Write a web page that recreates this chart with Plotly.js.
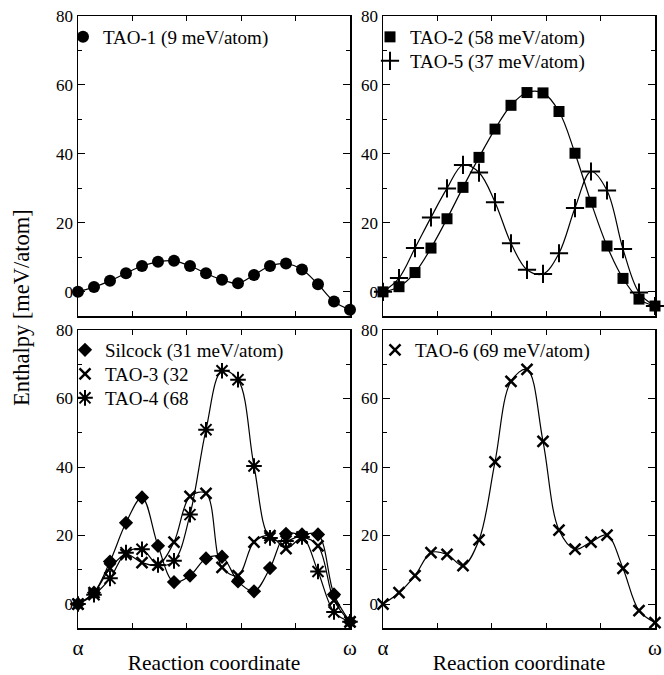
<!DOCTYPE html>
<html>
<head>
<meta charset="utf-8">
<script src="https://cdn.plot.ly/plotly-3.0.1.min.js"></script>
<style>html,body{margin:0;padding:0;background:#fff;}#chart{width:664px;height:675px;}</style>
</head>
<body>
<div id="chart"></div>
<script>
// Reaction coordinate images (index along path)
const images = [0, 1, 2, 3, 4, 5, 6, 7, 8, 9, 10, 11, 12, 13, 14, 15, 16, 17];
// Enthalpy values [meV/atom]
const tao1 = [0, 1.4, 3.2, 5.4, 7.5, 8.7, 9.0, 7.5, 5.4, 3.5, 2.5, 4.9, 7.5, 8.2, 6.5, 2.2, -2.8, -5.2];
const tao2 = [0, 1.5, 5.6, 12.7, 21.2, 30.3, 39.0, 47.2, 54.1, 57.8, 57.7, 52.3, 40.2, 26.0, 13.3, 3.9, -2.1, -4.1];
const tao5 = [0, 4.0, 12.7, 21.6, 30.0, 36.8, 34.6, 26.0, 14.1, 6.4, 5.2, 11.2, 24.3, 34.9, 29.4, 12.4, -0.2, -4.1];
const silcock = [0, 3.3, 12.4, 23.7, 31.1, 17.0, 6.4, 8.3, 13.3, 13.8, 6.6, 3.7, 10.5, 20.5, 20.3, 20.3, 2.8, -5.2];
const tao3 = [0, 3.3, 10.4, 14.5, 12.1, 11.4, 18.1, 31.4, 32.3, 10.7, 8.3, 18.1, 20.0, 16.2, 19.3, 17.0, 1.1, -5.2];
const tao4 = [0, 2.7, 7.5, 15.0, 16.0, 11.4, 12.6, 26.1, 50.9, 68.1, 65.5, 40.3, 19.3, 18.4, 19.6, 9.5, -2.3, -5.2];
const tao6 = [0, 3.3, 8.3, 15.0, 14.5, 11.2, 18.7, 41.5, 65.0, 68.5, 47.5, 21.6, 16.0, 18.1, 20.1, 10.4, -1.9, -5.4];
// Legend labels
const names = {
  tao1: 'TAO-1 (9 meV/atom)',
  tao2: 'TAO-2 (58 meV/atom)',
  tao5: 'TAO-5 (37 meV/atom)',
  silcock: 'Silcock (31 meV/atom)',
  tao3: 'TAO-3 (32',
  tao4: 'TAO-4 (68',
  tao6: 'TAO-6 (69 meV/atom)'
};
const xTickVals = [0, 3.4, 6.8, 10.2, 13.6, 17];
const xTickText = ['α', '', '', '', '', 'ω'];

const W = 664, H = 675;
const px = v => v / W, py = v => 1 - v / H;
const serif = 'Liberation Serif';

// legend placement (pixel x of legend box, pixel y of row centre)
const series = [
  {y: tao1, name: names.tao1, ax: '', sym: 'circle', size: 12, lw: 0, lx: 63, ly: 37},
  {y: tao2, name: names.tao2, ax: '2', sym: 'square', size: 11, lw: 0, lx: 370, ly: 37},
  {y: tao5, name: names.tao5, ax: '2', sym: 'cross-thin-open', size: 13, lw: 2, lx: 370, ly: 61},
  {y: silcock, name: names.silcock, ax: '3', sym: 'diamond', size: 11, lw: 0, lx: 65, ly: 350},
  {y: tao3, name: names.tao3, ax: '3', sym: 'x-thin-open', size: 11, lw: 2.5, lx: 65, ly: 374},
  {y: tao4, name: names.tao4, ax: '3', sym: 'asterisk-open', size: 13, lw: 2, lx: 65, ly: 398},
  {y: tao6, name: names.tao6, ax: '4', sym: 'x-thin-open', size: 11, lw: 2.5, lx: 375, ly: 350}
];

const data = [];
series.forEach(s => {
  data.push({
    x: images, y: s.y, xaxis: 'x' + s.ax, yaxis: 'y' + s.ax,
    mode: 'lines', line: {shape: 'spline', smoothing: 1, color: '#000', width: 1.2},
    showlegend: false, hoverinfo: 'skip', cliponaxis: false
  });
});

const layout = {
  width: W, height: H,
  margin: {l: 0, r: 0, t: 0, b: 0},
  paper_bgcolor: '#fff', plot_bgcolor: '#fff',
  font: {family: serif, color: '#000'},
  showlegend: true
};

series.forEach((s, i) => {
  const legName = i === 0 ? 'legend' : 'legend' + (i + 1);
  data.push({
    x: images, y: s.y, xaxis: 'x' + s.ax, yaxis: 'y' + s.ax,
    mode: 'markers', name: s.name, legend: legName,
    marker: {symbol: s.sym, size: s.size, color: '#000', line: {color: '#000', width: s.lw}},
    cliponaxis: false
  });
  layout[legName] = {
    x: px(s.lx), y: py(s.ly - 19), xanchor: 'left', yanchor: 'top',
    bgcolor: 'rgba(0,0,0,0)', borderwidth: 0,
    font: {family: serif, size: 19, color: '#000'},
    itemwidth: 30
  };
});

function xa(dom, anchor, labels) {
  return {
    domain: dom, anchor: anchor, range: [0, 17],
    tickmode: 'array', tickvals: xTickVals, ticktext: xTickText,
    showticklabels: labels, ticks: 'inside', ticklen: 5, tickwidth: 1, tickcolor: '#000',
    showline: true, linecolor: '#000', linewidth: 1.5, mirror: 'ticks',
    showgrid: false, zeroline: false,
    tickfont: {family: serif, size: 21, color: '#000'},
    fixedrange: true
  };
}
function ya(dom, anchor) {
  return {
    domain: dom, anchor: anchor, range: [-7, 80],
    tickmode: 'linear', tick0: 0, dtick: 20,
    ticks: 'inside', ticklen: 7, tickwidth: 1, tickcolor: '#000',
    minor: {ticks: 'inside', ticklen: 4, tick0: 0, dtick: 10, tickcolor: '#000', showgrid: false},
    showline: true, linecolor: '#000', linewidth: 1.5, mirror: 'ticks',
    showgrid: false, zeroline: false,
    tickfont: {family: serif, size: 17, color: '#000'},
    fixedrange: true
  };
}
const xL = [px(78), px(350)], xR = [px(383), px(655)];
const yT = [py(316), py(16)], yB = [py(628), py(330)];
const xTitle = {text: 'Reaction coordinate', font: {family: serif, size: 21.5, color: '#000'}, standoff: 2};

Object.assign(layout, {
  xaxis: xa(xL, 'y', false),
  yaxis: ya(yT, 'x'),
  xaxis2: xa(xR, 'y2', false),
  yaxis2: ya(yT, 'x2'),
  xaxis3: Object.assign(xa(xL, 'y3', true), {title: xTitle}),
  yaxis3: ya(yB, 'x3'),
  xaxis4: Object.assign(xa(xR, 'y4', true), {title: xTitle}),
  yaxis4: ya(yB, 'x4'),
  annotations: [{
    text: 'Enthalpy [meV/atom]', xref: 'paper', yref: 'paper',
    x: px(21), y: py(308), xanchor: 'center', yanchor: 'middle',
    textangle: -90, showarrow: false,
    font: {family: serif, size: 22.5, color: '#000'}
  }]
});

Plotly.newPlot('chart', data, layout, {displayModeBar: false, staticPlot: true});
</script>
</body>
</html>
